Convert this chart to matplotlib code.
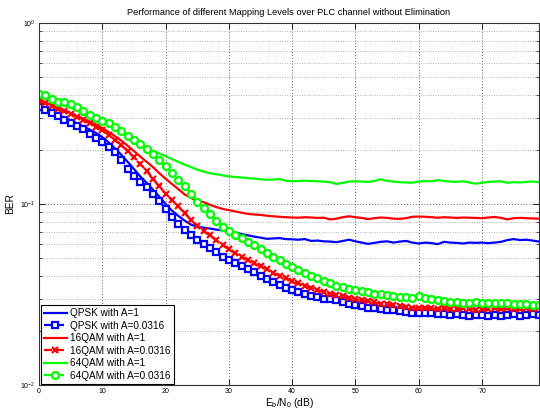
import matplotlib
matplotlib.use("Agg")
import matplotlib.pyplot as plt
from matplotlib.ticker import LogLocator, FixedLocator, NullFormatter

plt.rcParams['font.family'] = ['Liberation Sans', 'DejaVu Sans']
plt.rcParams['mathtext.fontset'] = 'custom'
plt.rcParams['mathtext.rm'] = 'Liberation Sans'
plt.rcParams['mathtext.it'] = 'Liberation Sans:italic'

ebn0 = list(range(80))

qpsk_a1 = [0.343,0.335,0.322,0.311,0.300,0.290,0.279,0.268,0.258,0.247,
 0.234,0.219,0.203,0.187,0.171,0.156,0.142,0.131,0.120,0.110,
 0.100,0.092,0.086,0.081,0.077,0.075,0.074,0.0732,0.0722,0.0715,
 0.0708,0.0695,0.0682,0.0672,0.066,0.0652,0.0642,0.0645,0.0648,0.0640,
 0.0638,0.0635,0.0640,0.0625,0.0628,0.0622,0.0620,0.0615,0.0625,0.0635,
 0.0622,0.0612,0.0602,0.0610,0.0618,0.0622,0.0612,0.0620,0.0625,0.0612,
 0.0605,0.0612,0.0608,0.0600,0.0618,0.0612,0.0610,0.0605,0.0612,0.0610,
 0.0612,0.0608,0.0612,0.0618,0.0632,0.0640,0.0632,0.0635,0.0628,0.0620]

qpsk_a0316 = [0.343,0.330,0.318,0.305,0.292,0.281,0.270,0.258,0.245,0.232,
 0.220,0.207,0.193,0.175,0.157,0.142,0.133,0.124,0.114,0.104,
 0.094,0.085,0.078,0.072,0.067,0.063,0.0600,0.0568,0.0540,0.0512,
 0.0490,0.0470,0.0452,0.0435,0.0420,0.0402,0.0385,0.0370,0.0356,0.0342,
 0.0333,0.0325,0.0320,0.0312,0.0306,0.0300,0.0297,0.0293,0.0288,0.0282,
 0.0278,0.0272,0.0268,0.0266,0.0262,0.0260,0.0258,0.0255,0.0253,0.0251,
 0.0250,0.0249,0.0250,0.0247,0.0246,0.0245,0.0247,0.0244,0.0242,0.0245,
 0.0243,0.0241,0.0244,0.0240,0.0243,0.0246,0.0242,0.0244,0.0246,0.0244]

qam16_a1 = [0.376,0.365,0.352,0.341,0.330,0.318,0.306,0.296,0.285,0.275,
 0.263,0.250,0.237,0.224,0.210,0.196,0.183,0.171,0.160,0.148,
 0.138,0.129,0.121,0.113,0.108,0.104,0.1025,0.0990,0.0962,0.0940,
 0.0925,0.0910,0.0895,0.0882,0.0875,0.0870,0.0862,0.0855,0.0850,0.0845,
 0.0842,0.0840,0.0845,0.0842,0.0838,0.0840,0.0822,0.0830,0.0845,0.0855,
 0.0845,0.0838,0.0825,0.0835,0.0842,0.0838,0.0830,0.0828,0.0835,0.0850,
 0.0852,0.0850,0.0845,0.0840,0.0845,0.0842,0.0838,0.0842,0.0840,0.0838,
 0.0835,0.0842,0.0848,0.0838,0.0822,0.0835,0.0838,0.0835,0.0832,0.0830]

qam16_a0316 = [0.370,0.360,0.349,0.336,0.325,0.313,0.301,0.290,0.280,0.268,
 0.255,0.241,0.226,0.212,0.196,0.181,0.167,0.152,0.138,0.125,
 0.114,0.105,0.097,0.089,0.082,0.076,0.071,0.067,0.063,0.0595,
 0.0562,0.0535,0.0512,0.0490,0.0470,0.0452,0.0435,0.0418,0.0402,0.0388,
 0.0375,0.0364,0.0352,0.0342,0.0334,0.0327,0.0320,0.0315,0.0310,0.0304,
 0.0298,0.0294,0.0290,0.0286,0.0282,0.0279,0.0276,0.0273,0.0270,0.0268,
 0.0266,0.0268,0.0265,0.0263,0.0266,0.0264,0.0262,0.0265,0.0263,0.0261,
 0.0264,0.0262,0.0265,0.0263,0.0266,0.0262,0.0264,0.0266,0.0263,0.0265]

qam64_a1 = [0.400,0.386,0.373,0.361,0.350,0.340,0.328,0.316,0.304,0.293,
 0.282,0.270,0.258,0.247,0.236,0.225,0.214,0.204,0.196,0.190,
 0.184,0.177,0.171,0.165,0.160,0.155,0.151,0.148,0.146,0.144,
 0.142,0.141,0.140,0.139,0.138,0.137,0.136,0.1365,0.1375,0.1345,
 0.1335,0.1340,0.1345,0.1340,0.1335,0.1330,0.1320,0.1290,0.1310,0.1330,
 0.1335,0.1330,0.1325,0.1340,0.1370,0.1340,0.1330,0.1320,0.1315,0.1310,
 0.1330,0.1340,0.1335,0.1355,0.1340,0.1330,0.1325,0.1335,0.1315,0.1295,
 0.1310,0.1325,0.1330,0.1335,0.1310,0.1320,0.1315,0.1325,0.1330,0.1320]

qam64_a0316 = [0.405,0.398,0.378,0.368,0.366,0.355,0.342,0.326,0.310,0.298,
 0.289,0.280,0.266,0.252,0.239,0.226,0.214,0.201,0.188,0.175,
 0.162,0.149,0.136,0.125,0.114,0.103,0.095,0.088,0.081,0.075,
 0.0710,0.0675,0.0645,0.0618,0.0590,0.0562,0.0538,0.0510,0.0488,0.0466,
 0.0448,0.0434,0.0418,0.0402,0.0390,0.0376,0.0364,0.0352,0.0346,0.0340,
 0.0335,0.0330,0.0325,0.0320,0.0317,0.0313,0.0310,0.0307,0.0305,0.0303,
 0.0312,0.0302,0.0299,0.0296,0.0292,0.0288,0.0287,0.0285,0.0284,0.0286,
 0.0284,0.0283,0.0285,0.0284,0.0283,0.0281,0.0279,0.0280,0.0277,0.0276]

labels = ['QPSK with A=1', 'QPSK with A=0.0316', '16QAM with A=1',
          '16QAM with A=0.0316', '64QAM with A=1', '64QAM with A=0.0316']
x_ticks = [0, 10, 20, 30, 40, 50, 60, 70]

fig = plt.figure(figsize=(5.4, 4.12), dpi=100)
ax = fig.add_axes([39/540, 27/412, 500/540, 362/412])

lw = 1.6
ax.plot(ebn0, qpsk_a1, '-', color='#0000ff', lw=lw, label=labels[0])
ax.plot(ebn0, qpsk_a0316, '--s', color='#0000ff', lw=lw, ms=4.3, mfc='white', mew=1.6, label=labels[1])
ax.plot(ebn0, qam16_a1, '-', color='#ff0000', lw=lw, label=labels[2])
ax.plot(ebn0, qam16_a0316, '--x', color='#ff0000', lw=lw, ms=4.5, mew=1.6, label=labels[3])
ax.plot(ebn0, qam64_a1, '-', color='#00ff00', lw=lw, label=labels[4])
ax.plot(ebn0, qam64_a0316, '--o', color='#00ff00', lw=lw, ms=5, mfc='white', mew=1.6, label=labels[5])

ax.set_yscale('log')
ax.set_xlim(0, 79)
ax.set_ylim(1e-2, 1)
ax.xaxis.set_major_locator(FixedLocator(x_ticks))
ax.yaxis.set_major_locator(LogLocator(base=10, numticks=5))
ax.yaxis.set_minor_locator(LogLocator(base=10, subs=range(2, 10), numticks=20))
ax.yaxis.set_minor_formatter(NullFormatter())

ax.grid(True, which='major', axis='both', linestyle=(0, (1, 2.5)), color='#333333', lw=0.6)
ax.grid(True, which='minor', axis='y', linestyle=(0, (1, 2.5)), color='#777777', lw=0.5)

ax.tick_params(axis='both', which='both', direction='in', labelsize=5, top=True, right=True)
ax.tick_params(axis='both', which='major', length=4, width=0.6, pad=2.5)
ax.tick_params(axis='y', which='minor', length=2, width=0.5)
for s in ax.spines.values():
    s.set_linewidth(0.8)
    s.set_color('#333333')

ax.set_title('Performance of different Mapping Levels over PLC channel without Elimination',
             fontsize=6.7, pad=6)
ax.set_xlabel(r'E$_\mathregular{b}$/N$_\mathregular{0}$ (dB)', fontsize=7.3, labelpad=0.5)
ax.set_ylabel('BER', fontsize=7.3, labelpad=4)

leg = ax.legend(loc='lower left', bbox_to_anchor=(0.004, 0.004), fontsize=7.2,
                handlelength=2.3, borderpad=0.3, labelspacing=0.25, handletextpad=0.3,
                fancybox=False, framealpha=1, edgecolor='black', borderaxespad=0.0)
leg.get_frame().set_linewidth(0.8)

fig.savefig('out.png', dpi=100)
